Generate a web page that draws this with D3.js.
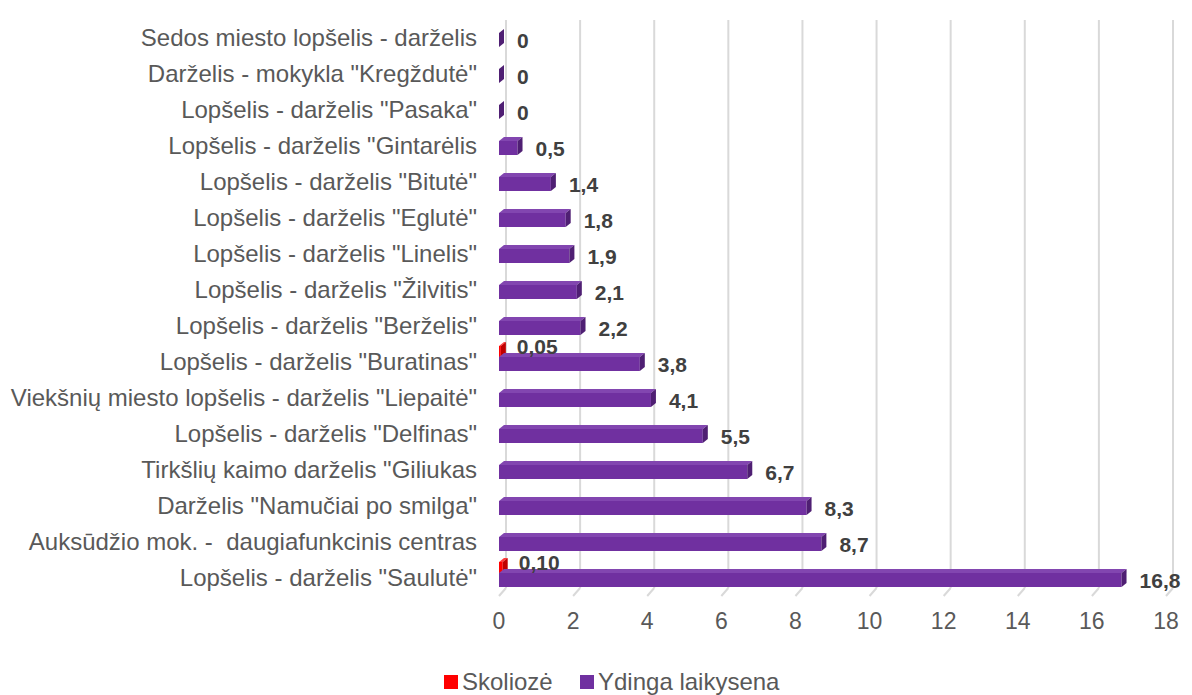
<!DOCTYPE html>
<html>
<head>
<meta charset="utf-8">
<title>Laikysena</title>
<style>
  body { margin: 0; background: #fff; }
  text { font-family: "Liberation Sans", Arial, sans-serif; white-space: pre; }
</style>
</head>
<body>
<script src="https://cdn.jsdelivr.net/npm/d3@7/dist/d3.min.js"></script>
<script>
// duomenys (iš viršaus į apačią)
var categories = [
  'Sedos miesto lopšelis - darželis',
  'Darželis - mokykla "Kregždutė"',
  'Lopšelis - darželis "Pasaka"',
  'Lopšelis - darželis "Gintarėlis',
  'Lopšelis - darželis "Bitutė"',
  'Lopšelis - darželis "Eglutė"',
  'Lopšelis - darželis "Linelis"',
  'Lopšelis - darželis "Žilvitis"',
  'Lopšelis - darželis "Berželis"',
  'Lopšelis - darželis "Buratinas"',
  'Viekšnių miesto lopšelis - darželis "Liepaitė"',
  'Lopšelis - darželis "Delfinas"',
  'Tirkšlių kaimo darželis "Giliukas',
  'Darželis "Namučiai po smilga"',
  'Auksūdžio mok. -  daugiafunkcinis centras',
  'Lopšelis - darželis "Saulutė"'
];
var skolioze = [null, null, null, null, null, null, null, null, null, 0.05, null, null, null, null, null, 0.10];
var skoliozeLabels = ["", "", "", "", "", "", "", "", "", "0,05", "", "", "", "", "", "0,10"];
var ydinga = [0, 0, 0, 0.5, 1.4, 1.8, 1.9, 2.1, 2.2, 3.8, 4.1, 5.5, 6.7, 8.3, 8.7, 16.8];
var xTicks = [0, 2, 4, 6, 8, 10, 12, 14, 16, 18];
var seriesNames = ["Skoliozė", "Ydinga laikysena"];
var seriesColors = ["#ff0000", "#7030a0"];

var width = 1192, height = 695;
var svg = d3.select("body").append("svg")
  .attr("width", width)
  .attr("height", height);

var x = d3.scaleLinear().domain([0, 18]).range([499, 1166]);
var y = d3.scalePoint().domain(categories).range([38, 578]);

var dx = 7, dy = 8;   // 3D gylis
var gridTop = 20, gridBottom = 588;

// tinklelis su "grindimis"
var grid = svg.append("g");
xTicks.forEach(function(t) {
  grid.append("line")
    .attr("x1", x(t) + dx).attr("x2", x(t) + dx)
    .attr("y1", gridTop).attr("y2", gridBottom)
    .attr("stroke", "#d9d9d9").attr("stroke-width", 2);
  grid.append("line")
    .attr("x1", x(t) + dx).attr("x2", x(t))
    .attr("y1", gridBottom).attr("y2", gridBottom + dy)
    .attr("stroke", "#d9d9d9").attr("stroke-width", 2);
});

// x ašies žymės
svg.append("g").selectAll("text")
  .data(xTicks).enter().append("text")
  .attr("x", function(d) { return x(d); })
  .attr("y", 621)
  .attr("dy", "0.35em")
  .attr("text-anchor", "middle")
  .attr("font-size", 23)
  .attr("fill", "#595959")
  .text(function(d) { return d; });

// kategorijos
svg.append("g").selectAll("text")
  .data(categories).enter().append("text")
  .attr("x", 477)
  .attr("y", function(d) { return y(d); })
  .attr("dy", "0.35em")
  .attr("text-anchor", "end")
  .attr("font-size", 24)
  .attr("fill", "#595959")
  .text(function(d) { return d; });

function bar3d(g, v, cy, h, front, top, side) {
  var x0 = x(0), x1 = x(v), y0 = cy - h / 2, y1 = cy + h / 2;
  var d = 5, e = 4;
  g.append("rect")
    .attr("x", x0).attr("y", y0)
    .attr("width", Math.max(0, x1 - x0)).attr("height", h)
    .attr("fill", front);
  g.append("path")
    .attr("d", "M" + x0 + "," + y0 + "L" + (x0 + d) + "," + (y0 - e) +
      "L" + (x1 + d) + "," + (y0 - e) + "L" + x1 + "," + y0 + "Z")
    .attr("fill", top);
  g.append("path")
    .attr("d", "M" + x1 + "," + y0 + "L" + (x1 + d) + "," + (y0 - e) +
      "L" + (x1 + d) + "," + (y1 - e) + "L" + x1 + "," + y1 + "Z")
    .attr("fill", side);
}

var bars = svg.append("g");
categories.forEach(function(c, i) {
  var cy = y(c);
  if (skolioze[i] != null) {
    bar3d(bars, skolioze[i], cy - 10, 12, "#ff0000", "#ff3b3b", "#c00000");
  }
  bar3d(bars, ydinga[i], cy + 2, 14, "#7030a0", "#8246b0", "#4f1f73");
});

// reikšmių etiketės
var labels = svg.append("g")
  .attr("font-size", 21)
  .attr("font-weight", "bold")
  .attr("fill", "#404040");
categories.forEach(function(c, i) {
  var cy = y(c);
  labels.append("text")
    .attr("x", x(ydinga[i]) + 18)
    .attr("y", cy + 3)
    .attr("dy", "0.35em")
    .text(String(ydinga[i]).replace(".", ","));
  if (skolioze[i] != null) {
    labels.append("text")
      .attr("x", x(skolioze[i]) + 16)
      .attr("y", cy - 15)
      .attr("dy", "0.35em")
      .text(skoliozeLabels[i]);
  }
});

// legenda
var legX = [444, 580];
var legend = svg.append("g");
seriesNames.forEach(function(n, i) {
  legend.append("rect")
    .attr("x", legX[i]).attr("y", 675)
    .attr("width", 14).attr("height", 14)
    .attr("fill", seriesColors[i]);
  legend.append("text")
    .attr("x", legX[i] + 18).attr("y", 682)
    .attr("dy", "0.35em")
    .attr("font-size", 24)
    .attr("fill", "#595959")
    .text(n);
});
</script>
</body>
</html>
